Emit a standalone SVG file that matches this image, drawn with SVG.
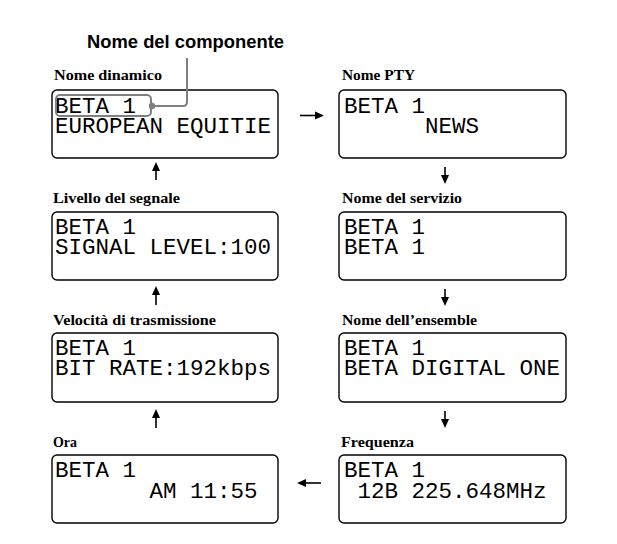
<svg xmlns="http://www.w3.org/2000/svg" width="617" height="544" viewBox="0 0 617 544">
<style>
.box{fill:#fff;stroke:#000;stroke-width:1.4}
.lbl{font-family:"Liberation Serif","Times New Roman",serif;font-weight:bold;font-size:14px;fill:#000}
.lcd{font-family:"Liberation Mono","Courier New",monospace;font-size:22.5px;fill:#000;white-space:pre}
.ln{stroke:#000;stroke-width:1.6;fill:none}
.ah{fill:#000}
.call{stroke:#808080;stroke-width:2;fill:none}
</style>
<rect width="617" height="544" fill="#fff"/>
<text x="87" y="48" font-family="Liberation Sans, Arial, sans-serif" font-weight="bold" font-size="17.5" textLength="197" lengthAdjust="spacingAndGlyphs">Nome del componente</text>

<g id="n-dinamico">
<text class="lbl" x="54" y="80" textLength="108" lengthAdjust="spacingAndGlyphs">Nome dinamico</text>
<rect class="box" x="52" y="90" width="226" height="68" rx="5"/>
<text class="lcd"><tspan x="55" y="112.5">BETA 1</tspan><tspan x="55" y="132.5">EUROPEAN EQUITIE</tspan></text>
</g>
<g id="n-pty">
<text class="lbl" x="342" y="80" textLength="73" lengthAdjust="spacingAndGlyphs">Nome PTY</text>
<rect class="box" x="339" y="90" width="227" height="68" rx="5"/>
<text class="lcd"><tspan x="344" y="112.5">BETA 1</tspan><tspan x="344" y="132.5">      NEWS</tspan></text>
</g>
<g id="n-segnale">
<text class="lbl" x="53" y="203" textLength="127" lengthAdjust="spacingAndGlyphs">Livello del segnale</text>
<rect class="box" x="52" y="212" width="226" height="68" rx="5"/>
<text class="lcd"><tspan x="55" y="234">BETA 1</tspan><tspan x="55" y="254">SIGNAL LEVEL:100</tspan></text>
</g>
<g id="n-servizio">
<text class="lbl" x="342" y="203" textLength="120" lengthAdjust="spacingAndGlyphs">Nome del servizio</text>
<rect class="box" x="339" y="212" width="227" height="68" rx="5"/>
<text class="lcd"><tspan x="344" y="234">BETA 1</tspan><tspan x="344" y="254">BETA 1</tspan></text>
</g>
<g id="n-velocita">
<text class="lbl" x="53" y="325" textLength="163" lengthAdjust="spacingAndGlyphs">Velocità di trasmissione</text>
<rect class="box" x="52" y="333" width="226" height="69" rx="5"/>
<text class="lcd"><tspan x="55" y="355">BETA 1</tspan><tspan x="55" y="375">BIT RATE:192kbps</tspan></text>
</g>
<g id="n-ensemble">
<text class="lbl" x="342" y="325" textLength="135" lengthAdjust="spacingAndGlyphs">Nome dell’ensemble</text>
<rect class="box" x="339" y="333" width="227" height="69" rx="5"/>
<text class="lcd"><tspan x="344" y="355">BETA 1</tspan><tspan x="344" y="375">BETA DIGITAL ONE</tspan></text>
</g>
<g id="n-ora">
<text class="lbl" x="53" y="447" textLength="24" lengthAdjust="spacingAndGlyphs">Ora</text>
<rect class="box" x="52" y="455" width="226" height="68" rx="5"/>
<text class="lcd"><tspan x="55" y="477">BETA 1</tspan><tspan x="55" y="498">       AM 11:55</tspan></text>
</g>
<g id="n-frequenza">
<text class="lbl" x="341" y="447" textLength="73" lengthAdjust="spacingAndGlyphs">Frequenza</text>
<rect class="box" x="339" y="455" width="227" height="68" rx="5"/>
<text class="lcd"><tspan x="344" y="477">BETA 1</tspan><tspan x="344" y="498"> 12B 225.648MHz</tspan></text>
</g>

<g id="callout">
<rect class="call" x="56" y="95" width="95" height="21" rx="4"/>
<path class="call" d="M151,106 H183 Q187,106 187,102 V58"/>
<circle cx="152" cy="106" r="3.2" fill="#808080"/>
</g>

<g id="connectors">
<line class="ln" x1="300" y1="115.5" x2="318" y2="115.5"/>
<polygon class="ah" points="324,115.5 315,111.5 315,119.5"/>
<line class="ln" x1="445" y1="167" x2="445" y2="178"/>
<polygon class="ah" points="445,184 441,175 449,175"/>
<line class="ln" x1="445" y1="289" x2="445" y2="300"/>
<polygon class="ah" points="445,306 441,297 449,297"/>
<line class="ln" x1="445" y1="411" x2="445" y2="422"/>
<polygon class="ah" points="445,428 441,419 449,419"/>
<line class="ln" x1="321" y1="483" x2="303" y2="483"/>
<polygon class="ah" points="297,483 306,479 306,487"/>
<line class="ln" x1="156" y1="428" x2="156" y2="415"/>
<polygon class="ah" points="156,409 152,418 160,418"/>
<line class="ln" x1="156" y1="305" x2="156" y2="292"/>
<polygon class="ah" points="156,286 152,295 160,295"/>
<line class="ln" x1="156" y1="180" x2="156" y2="168"/>
<polygon class="ah" points="156,162 152,171 160,171"/>
</g>
</svg>
